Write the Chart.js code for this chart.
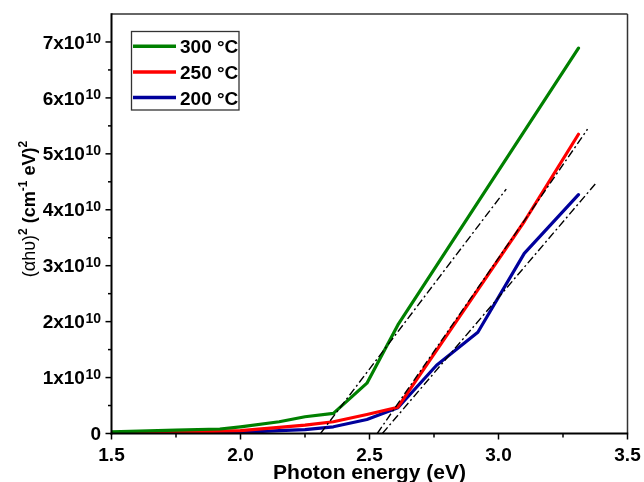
<!DOCTYPE html>
<html>
<head>
<meta charset="utf-8">
<script src="https://cdn.jsdelivr.net/npm/chart.js@4"></script>
<style>
html,body{margin:0;padding:0;background:#fff;}
</style>
</head>
<body>
<canvas id="chart" width="644" height="482"></canvas>
<script>
// photon energy (eV) and (alpha h nu)^2 in units of 1e10 (cm-1 eV)^2
const energy300=[1.5,1.75,1.92,2.0,2.15,2.25,2.36,2.49,2.61,3.31];
const alpha300=[0.03,0.06,0.08,0.12,0.21,0.30,0.36,0.90,1.94,6.89];

const energy250=[1.5,1.75,2.0,2.15,2.25,2.36,2.49,2.61,3.1,3.31];
const alpha250=[0.01,0.02,0.05,0.11,0.15,0.21,0.34,0.47,3.79,5.35];

const energy200=[1.5,1.75,2.0,2.15,2.25,2.36,2.49,2.61,2.76,2.92,3.1,3.31];
const alpha200=[0.0,0.005,0.02,0.05,0.07,0.12,0.25,0.46,1.22,1.81,3.22,4.27];

// extrapolated linear fits (dash-dot)
const fit300x=[2.31,3.03], fit300y=[0,4.37];
const fit250x=[2.53,3.345], fit250y=[0,5.44];
const fit200x=[2.55,3.375], fit200y=[0,4.46];

const labels=["300 °C","250 °C","200 °C"];
const colors=["#008000","#ff0000","#00009c"];

const xTicks=[1.5,2.0,2.5,3.0,3.5];
const xMinor=[1.75,2.25,2.75,3.25];
const yTicks=[0,1,2,3,4,5,6,7];
const yMinor=[0.5,1.5,2.5,3.5,4.5,5.5,6.5];

const FONT='"Liberation Sans", Arial, sans-serif';

const pts=(xs,ys)=>xs.map((v,i)=>({x:v,y:ys[i]}));

function fitSet(xs,ys){
 return {
  data:pts(xs,ys),
  borderColor:"#000",
  borderWidth:1.4,
  borderDash:[8,3,2,3],
  pointRadius:0,
  fill:false
 };
}
function curve(i,xs,ys){
 return {
  label:labels[i],
  data:pts(xs,ys),
  borderColor:colors[i],
  borderWidth:3.2,
  borderJoinStyle:"round",
  borderCapStyle:"round",
  pointRadius:0,
  fill:false
 };
}

function line(ctx,x1,y1,x2,y2){
 ctx.beginPath();ctx.moveTo(x1,y1);ctx.lineTo(x2,y2);ctx.stroke();
}

const decor={
 id:"decor",
 afterDraw(chart){
  const {ctx,chartArea:a,scales:{x,y}}=chart;
  ctx.save();
  ctx.lineCap="butt";

  // frame
  ctx.strokeStyle="#333";ctx.lineWidth=1.5;
  line(ctx,a.left,a.top,a.right,a.top);
  line(ctx,a.right,a.top,a.right,a.bottom);
  ctx.strokeStyle="#000";ctx.lineWidth=2;
  line(ctx,a.left,a.top-0.7,a.left,a.bottom+1);
  line(ctx,a.left-1,a.bottom,a.right+0.7,a.bottom);

  // ticks
  ctx.lineWidth=1.5;
  xTicks.forEach(v=>{const p=x.getPixelForValue(v);line(ctx,p,a.bottom,p,a.bottom+6);});
  xMinor.forEach(v=>{const p=x.getPixelForValue(v);line(ctx,p,a.bottom,p,a.bottom+4);});
  yTicks.forEach(v=>{const p=y.getPixelForValue(v);line(ctx,a.left-6,p,a.left,p);});
  yMinor.forEach(v=>{const p=y.getPixelForValue(v);line(ctx,a.left-3.5,p,a.left,p);});

  ctx.fillStyle="#000";
  // x tick labels
  ctx.font="bold 19px "+FONT;
  ctx.textAlign="center";ctx.textBaseline="alphabetic";
  xTicks.forEach(v=>ctx.fillText(v.toFixed(1),x.getPixelForValue(v),461));

  // y tick labels
  const right=101;
  yTicks.forEach(v=>{
   const p=y.getPixelForValue(v);
   ctx.textAlign="right";
   if(v===0){
    ctx.font="bold 19px "+FONT;
    ctx.fillText("0",right,p+6.8);
    return;
   }
   ctx.font="bold 14px "+FONT;
   const sw=ctx.measureText("10").width;
   ctx.fillText("10",right,p+1);
   ctx.font="bold 19px "+FONT;
   ctx.fillText(v+"x10",right-sw-0.5,p+6.6);
  });

  // x title
  ctx.font="bold 20px "+FONT;
  const title="Photon energy (eV)";
  const tw=ctx.measureText(title).width;
  ctx.save();
  ctx.translate((a.left+a.right)/2,478.5);
  ctx.scale(193/tw,1);
  ctx.textAlign="center";
  ctx.fillText(title,0,0);
  ctx.restore();

  // y title (rich text, rotated)
  const runs=[
   ["(αhυ)","18px",0],
   ["2","bold 12px",-8],
   [" (cm","bold 18px",0],
   ["-1","bold 12px",-8],
   [" eV)","bold 18px",0],
   ["2","bold 12px",-8]
  ];
  let total=0;
  runs.forEach(r=>{ctx.font=r[1]+" "+FONT;r.push(ctx.measureText(r[0]).width);total+=r[3];});
  ctx.save();
  ctx.translate(35,209);
  ctx.rotate(-Math.PI/2);
  ctx.textAlign="left";
  let cx=-total/2;
  runs.forEach(r=>{ctx.font=r[1]+" "+FONT;ctx.fillText(r[0],cx,r[2]);cx+=r[3];});
  ctx.restore();

  // legend
  ctx.strokeStyle="#333";ctx.lineWidth=1.3;
  ctx.strokeRect(131.5,31.5,107.5,78.5);
  const rows=chart.data.datasets.filter(d=>d.label);
  rows.forEach((d,i)=>{
   const ry=46.3+i*25.6;
   ctx.strokeStyle=d.borderColor;ctx.lineWidth=3.5;
   line(ctx,133,ry,176,ry);
   ctx.fillStyle="#000";
   ctx.font="bold 19px "+FONT;
   ctx.textAlign="left";
   ctx.fillText(d.label,180,ry+7);
  });
  ctx.restore();
 }
};

new Chart(document.getElementById("chart"),{
 type:"line",
 data:{
  datasets:[
   fitSet(fit300x,fit300y),
   fitSet(fit250x,fit250y),
   fitSet(fit200x,fit200y),
   curve(0,energy300,alpha300),
   curve(1,energy250,alpha250),
   curve(2,energy200,alpha200)
  ]
 },
 options:{
  responsive:false,
  animation:false,
  devicePixelRatio:1,
  layout:{padding:{left:111.5,right:16.5,top:14,bottom:48.5}},
  plugins:{legend:{display:false},tooltip:{enabled:false}},
  scales:{
   x:{type:"linear",min:1.5,max:3.5,display:false},
   y:{type:"linear",min:0,max:7.5,display:false}
  }
 },
 plugins:[decor]
});
</script>
</body>
</html>
